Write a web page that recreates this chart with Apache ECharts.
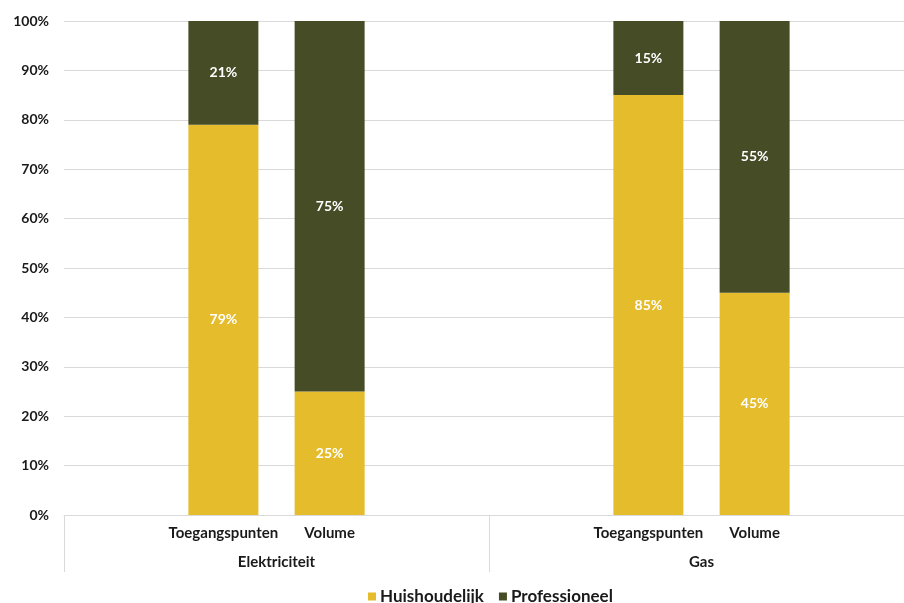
<!DOCTYPE html>
<html>
<head>
<meta charset="utf-8">
<script src="https://cdn.jsdelivr.net/npm/echarts@6/dist/echarts.min.js"></script>
<style>
  html, body { margin: 0; padding: 0; background: #ffffff; overflow: hidden; }
  #chart { width: 914px; height: 603px; }
</style>
</head>
<body>
<div id="chart"></div>
<script>
// Share of access points and volume, households vs. professional users
const groups = ['Elektriciteit', 'Gas'];
const measures = ['Toegangspunten', 'Volume'];
const seriesNames = ['Huishoudelijk', 'Professioneel'];
// values per bar, in order: Elektriciteit/Toegangspunten, Elektriciteit/Volume, Gas/Toegangspunten, Gas/Volume
const huishoudelijk = [79, 25, 85, 45];
const professioneel = [21, 75, 15, 55];
const yTicks = [0, 10, 20, 30, 40, 50, 60, 70, 80, 90, 100];

const FONT = 'Lato, "Open Sans", sans-serif';
const YELLOW = '#E5BC2B';
const OLIVE = '#464D26';
const GRID = '#D9D9D9';
const INK = '#1a1a1a';

// Each group occupies four slots; the two bars sit in the middle two.
const slots = [];
const slotIndex = [];
groups.forEach(function (g) {
  slots.push(g + '|pad-a');
  measures.forEach(function (m) {
    slotIndex.push(slots.length);
    slots.push(g + '|' + m);
  });
  slots.push(g + '|pad-b');
});

function spread(values) {
  const out = slots.map(function () { return null; });
  values.forEach(function (v, i) { out[slotIndex[i]] = v; });
  return out;
}

const chart = echarts.init(document.getElementById('chart'), null, { renderer: 'canvas' });

const labelStyle = {
  show: true,
  position: 'inside',
  formatter: '{c}%',
  color: '#ffffff',
  fontFamily: FONT,
  fontWeight: 'bold',
  fontSize: 14
};

chart.setOption({
  animation: false,
  textStyle: { fontFamily: FONT },
  grid: { left: 64, top: 21, width: 850, height: 494, containLabel: false },
  legend: {
    left: 368,
    top: 588,
    padding: 0,
    itemWidth: 8,
    itemHeight: 8,
    itemGap: 15,
    icon: 'rect',
    data: seriesNames,
    textStyle: { fontFamily: FONT, fontWeight: 'bold', fontSize: 17, color: INK, padding: [0, 0, 0, -1] }
  },
  xAxis: [
    {
      type: 'category',
      data: slots,
      position: 'bottom',
      axisLine: { show: true, lineStyle: { color: GRID, width: 1 } },
      axisTick: { show: false },
      axisLabel: {
        interval: 0,
        margin: 11,
        fontFamily: FONT,
        fontWeight: 'bold',
        fontSize: 15,
        color: INK,
        formatter: function (v) {
          const part = v.split('|')[1];
          return measures.indexOf(part) >= 0 ? part : '';
        }
      },
      splitLine: { show: false }
    },
    {
      type: 'category',
      data: groups,
      position: 'bottom',
      axisLine: { show: false },
      axisTick: { show: true, length: 57, lineStyle: { color: GRID, width: 1 } },
      axisLabel: {
        margin: 40,
        fontFamily: FONT,
        fontWeight: 'bold',
        fontSize: 15,
        color: INK
      },
      splitLine: { show: false }
    }
  ],
  yAxis: {
    type: 'value',
    min: yTicks[0],
    max: yTicks[yTicks.length - 1],
    interval: yTicks[1] - yTicks[0],
    axisLine: { show: false },
    axisTick: { show: false },
    axisLabel: {
      margin: 15,
      formatter: '{value}%',
      fontFamily: FONT,
      fontWeight: 'bold',
      fontSize: 14,
      color: INK
    },
    splitLine: { lineStyle: { color: GRID, width: 1 } }
  },
  series: [
    {
      name: seriesNames[0],
      type: 'bar',
      stack: 'share',
      barWidth: 70,
      xAxisIndex: 0,
      itemStyle: { color: YELLOW },
      label: labelStyle,
      data: spread(huishoudelijk)
    },
    {
      name: seriesNames[1],
      type: 'bar',
      stack: 'share',
      barWidth: 70,
      xAxisIndex: 0,
      itemStyle: { color: OLIVE },
      label: labelStyle,
      data: spread(professioneel)
    }
  ]
});
</script>
</body>
</html>
